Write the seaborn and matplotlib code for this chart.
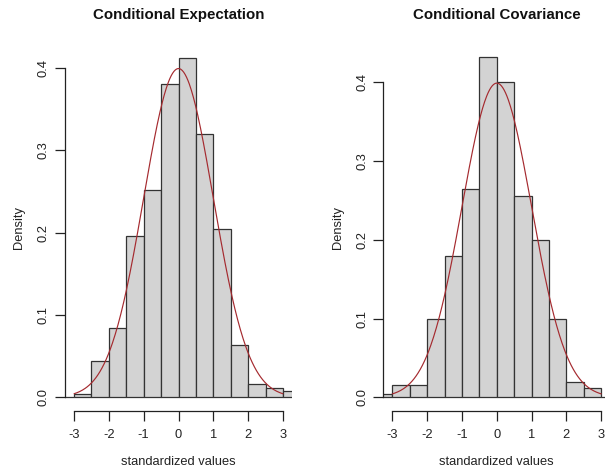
import numpy as np
import pandas as pd
import matplotlib
matplotlib.use("Agg")
import matplotlib.pyplot as plt
import seaborn as sns

# ---- data ----
bin_edges = [-3.5, -3.0, -2.5, -2.0, -1.5, -1.0, -0.5, 0.0, 0.5, 1.0, 1.5, 2.0, 2.5, 3.0, 3.5]
dens_expectation = [0.000, 0.004, 0.044, 0.084, 0.196, 0.252, 0.380, 0.412, 0.320, 0.204, 0.064, 0.016, 0.012, 0.008]
dens_covariance = [0.004, 0.016, 0.016, 0.100, 0.180, 0.264, 0.432, 0.400, 0.256, 0.200, 0.100, 0.020, 0.012, 0.000]
titles = ["Conditional Expectation", "Conditional Covariance"]
x_ticks = [-3, -2, -1, 0, 1, 2, 3]
y_ticks = [0.0, 0.1, 0.2, 0.3, 0.4]
x_label = "standardized values"
y_label = "Density"

sns.set_style("white")
plt.rcParams["font.family"] = ["Liberation Sans", "DejaVu Sans"]

W, H = 605, 470
fig = plt.figure(figsize=(W / 100, H / 100), dpi=100)

def px_axes(left, top, right, bottom):
    return fig.add_axes([left / W, 1 - bottom / H, (right - left) / W, (bottom - top) / H])

panels = [
    dict(dens=dens_expectation, box=(65, 44.2, 292, 411), xlim=(-3.26, 3.26), ylim=(-0.0165, 0.4285)),
    dict(dens=dens_covariance, box=(383.3, 43.7, 610.3, 411), xlim=(-3.26, 3.26), ylim=(-0.0173, 0.449)),
]

line_x = np.linspace(-3, 3, 300)
line_y = np.exp(-line_x ** 2 / 2) / np.sqrt(2 * np.pi)
curve = pd.DataFrame({"x": line_x, "y": line_y})

for i, p in enumerate(panels):
    ax = px_axes(*p["box"])
    lefts = bin_edges[:-1]
    df = pd.DataFrame({"x": [l + 0.25 for l in lefts], "w": p["dens"]})
    sns.histplot(data=df, x="x", weights="w", bins=bin_edges, stat="count",
                 color="#D3D3D3", edgecolor="#333333", linewidth=0.9, alpha=1.0, ax=ax)
    sns.lineplot(data=curve, x="x", y="y", color="#a52a2f", linewidth=0.85, ax=ax)
    ax.set_xlim(*p["xlim"])
    ax.set_ylim(*p["ylim"])
    ax.set_xticks(x_ticks)
    ax.set_xticklabels([str(t) for t in x_ticks])
    ax.set_yticks(y_ticks)
    ax.set_yticklabels([f"{t:.1f}" for t in y_ticks], rotation=90, va="center")
    for s in ["top", "right"]:
        ax.spines[s].set_visible(False)
    ax.spines["left"].set_bounds(0, 0.4)
    ax.spines["bottom"].set_bounds(-3, 3)
    for s in ["left", "bottom"]:
        ax.spines[s].set_color("#222222")
        ax.spines[s].set_linewidth(0.9)
    ax.tick_params(axis="both", which="major", length=7, width=0.9, color="#222222",
                   labelsize=9.3, labelcolor="#222222", direction="out",
                   bottom=True, left=True)
    ax.tick_params(axis="x", pad=6)
    ax.tick_params(axis="y", pad=4)
    ax.set_xlabel(x_label, fontsize=9.3, color="#222222", labelpad=11)
    ax.set_ylabel(y_label, fontsize=9.3, color="#222222", labelpad=9)
    ax.patch.set_alpha(0)
    cx = (p["box"][0] + p["box"][2]) / 2
    fig.text(cx / W, 1 - 15 / H, titles[i], ha="center", va="center",
             fontsize=10.8, fontweight="bold", color="#111111")

fig.savefig("out.png", dpi=100, facecolor="white")
